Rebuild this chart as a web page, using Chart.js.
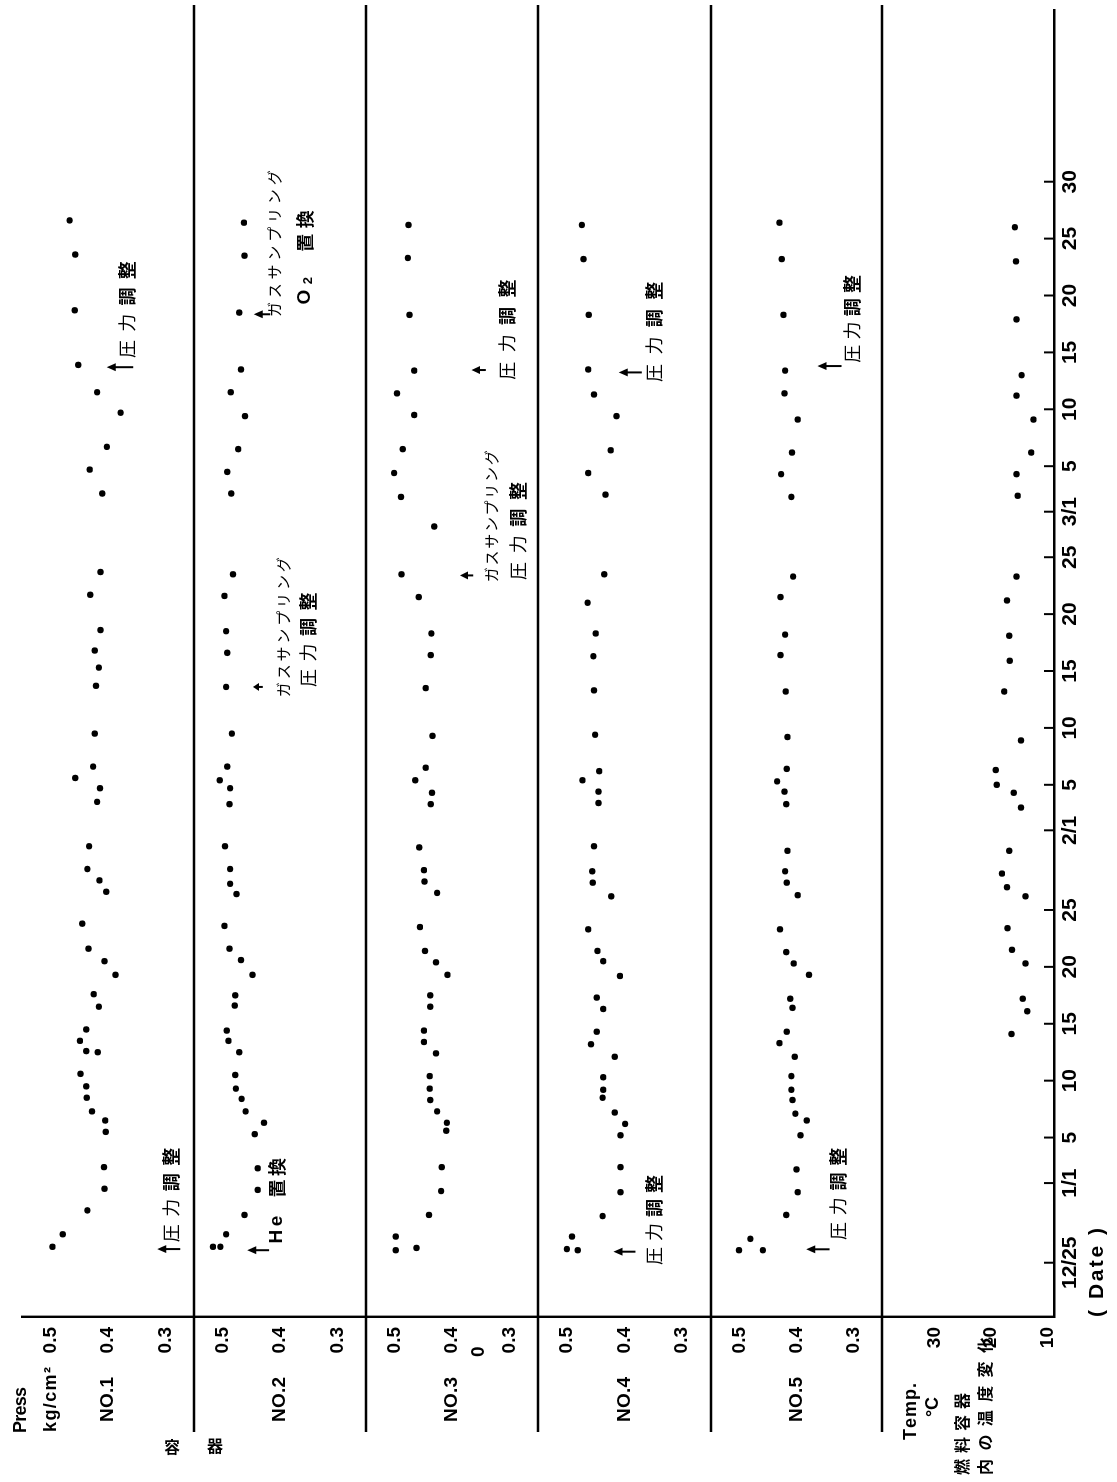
<!DOCTYPE html>
<html><head><meta charset="utf-8"><title>容器内圧力と温度の変化</title>
<script src="https://cdn.jsdelivr.net/npm/chart.js@4.4.1/dist/chart.umd.min.js"></script>
<style>
html,body{margin:0;padding:0;background:#fff;width:1117px;height:1482px;overflow:hidden}
#wrap{position:absolute;left:0;top:0;width:1482px;height:1117px;transform-origin:0 0;transform:translateY(1482px) rotate(-90deg)}
#wrap canvas{position:absolute;left:0;top:0}
</style></head><body><div id="wrap"></div>
<script>
// ---------------- data (day 0 = 12/25) ----------------
const tickDays   = [0,7,11,16,21,26,31,38,42,47,52,57,62,66,70,75,80,85,90,95];
const tickLabels = ['12/25','1/1','5','10','15','20','25','2/1','5','10','15','20','25','3/1','5','10','15','20','25','30'];
const pressTicks = [0.5,0.4,0.3];
const tempTicks  = [30,20,10];

const no1Days  = [1.4,2.5,4.6,6.5,8.4,11.5,12.5,13.3,14.5,15.5,16.6,18.5,18.6,19.5,20.5,22.5,23.6,25.3,26.5,27.6,29.8,32.6,33.6,34.6,36.6,40.5,41.7,42.6,43.6,46.5,50.7,52.3,53.8,55.6,58.7,60.7,67.6,69.7,71.7,74.7,76.5,78.9,83.7,88.6,91.6];
const no1Press = [.497,.479,.436,.406,.407,.404,.405,.428,.437,.438,.448,.418,.438,.449,.438,.416,.425,.387,.406,.434,.445,.403,.415,.436,.433,.419,.414,.457,.426,.423,.421,.416,.423,.413,.431,.413,.410,.432,.402,.378,.419,.452,.458,.457,.467];

const no2Days  = [1.4,1.4,2.5,4.2,6.4,8.3,11.3,12.3,13.3,14.4,15.3,16.5,18.5,19.5,20.4,22.6,23.5,25.3,26.6,27.6,29.6,32.4,33.3,34.6,36.6,40.3,41.7,42.4,43.6,46.5,50.6,53.6,55.5,58.6,60.5,67.6,69.5,71.5,74.4,76.5,78.5,83.5,88.5,91.4];
const no2Press = [.517,.504,.494,.462,.439,.439,.444,.428,.460,.467,.477,.478,.471,.490,.493,.479,.478,.448,.468,.488,.497,.476,.487,.487,.496,.488,.487,.505,.492,.484,.494,.492,.494,.497,.482,.485,.492,.473,.461,.486,.468,.471,.462,.463];

const no3Days  = [1.1,1.3,2.3,4.2,6.3,8.4,11.6,12.3,13.3,14.3,15.3,16.4,18.4,19.4,20.4,22.5,23.5,25.3,26.4,27.4,29.5,32.5,33.5,34.5,36.5,40.3,41.3,42.4,43.5,46.3,50.5,53.4,55.3,58.5,60.5,64.7,67.3,69.4,71.5,74.5,76.4,78.4,83.3,88.3,91.2];
const no3Press = [.498,.462,.498,.440,.419,.418,.410,.409,.426,.438,.439,.439,.428,.449,.449,.438,.438,.408,.428,.447,.456,.426,.448,.449,.457,.437,.435,.464,.446,.434,.446,.437,.436,.458,.488,.431,.489,.501,.486,.466,.496,.466,.474,.477,.476];

const no4Days  = [1.1,1.2,2.3,4.1,6.2,8.4,11.2,12.2,13.2,14.5,15.2,16.3,18.1,19.2,20.3,22.3,23.3,25.2,26.5,27.4,29.3,32.2,33.4,34.4,36.6,40.4,41.4,42.4,43.2,46.4,50.3,53.3,55.3,58.0,60.5,67.5,69.4,71.4,74.4,76.3,78.5,83.3,88.2,91.2];
const no4Press = [.481,.500,.491,.438,.407,.407,.407,.399,.417,.438,.437,.437,.417,.458,.448,.437,.448,.408,.437,.447,.463,.423,.455,.456,.453,.445,.445,.473,.444,.451,.453,.454,.450,.464,.435,.433,.463,.424,.414,.453,.463,.462,.471,.474];

const no5Days  = [1.1,1.1,2.1,4.2,6.2,8.2,11.2,12.5,13.1,14.3,15.2,16.4,18.1,19.3,20.3,22.4,23.2,25.3,26.3,27.3,29.3,32.3,33.4,34.4,36.2,40.3,41.4,42.3,43.4,46.2,50.2,53.4,55.2,58.5,60.3,67.3,69.3,71.2,74.1,76.4,78.4,83.3,88.2,91.4];
const no5Press = [.501,.459,.481,.418,.398,.400,.393,.382,.402,.407,.409,.409,.403,.430,.417,.407,.411,.378,.405,.418,.429,.398,.417,.420,.416,.418,.421,.434,.417,.416,.419,.428,.420,.428,.406,.409,.427,.408,.398,.421,.420,.423,.426,.430];

const tempDays   = [20.1,22.1,23.2,26.3,27.5,29.4,32.2,33.0,34.2,36.2,40.0,41.3,42.0,43.3,45.9,50.2,52.9,55.1,58.2,60.3,67.4,69.3,71.2,74.1,76.2,78.0,82.9,88.0,91.0];
const tempValues = [16.4,13.6,14.4,13.9,16.3,17.1,13.9,17.2,18.1,16.8,14.7,16.0,19.0,19.2,14.7,17.7,16.7,16.8,17.2,15.5,15.3,15.5,12.9,12.5,15.5,14.6,15.5,15.6,15.8];

// ---------------- layout / styles ----------------
const W = 1482, H = 1117;
const DAY_MIN = -4.77, DAY_MAX = 110.09;
const F = {
  jp:   '18px "Noto Sans CJK JP"',
  jpb:  'bold 18px "Noto Sans CJK JP"',
  kana: '15px "Noto Sans CJK JP"',
  jpl:  'bold 16px "Noto Sans CJK JP"',
  lat:  'bold 19px "Liberation Sans"',
  sub:  'bold 13px "Liberation Sans"',
  lab:  'bold 19px "Liberation Sans"',
  lab18:'bold 18px "Liberation Sans"',
  date: 'bold 21px "Liberation Sans"'
};
const PA = [['圧力','jp'],['調整','jpb']];
const GS = [['ガスサンプリング','kana']];

// annotations: (day, value) in data units
const notes = [
  [ {day:1.2, tip:0.314, tail:0.274, lines:[{from:1.8, to:10.1, v:0.290, segs:PA}]},
    {day:78.7, tip:0.402, tail:0.356, lines:[{from:79.5, to:88.0, v:0.367, segs:PA}]} ],
  [ {day:1.1, tip:0.457, tail:0.419, lines:[{from:1.7, to:9.2, v:0.405, segs:[['He','lat'],['  置換','jpb']]}]},
    {day:50.6, tip:0.447, tail:0.430, lines:[{from:49.7, to:62.0, v:0.394, segs:GS},{from:50.6, to:58.9, v:0.351, segs:PA}]},
    {day:83.35, tip:0.446, tail:0.417, lines:[{from:83.1, to:96.0, v:0.410, segs:GS},{from:84.2, to:92.5, v:0.356, segs:[['O','lat'],['2','sub',3],['  置換','jpb']]}]} ],
  [ {day:60.4, tip:0.386, tail:0.363, lines:[{from:59.8, to:71.4, v:0.332, segs:GS},{from:60.0, to:68.6, v:0.285, segs:PA}]},
    {day:78.45, tip:0.366, tail:0.341, lines:[{from:77.6, to:86.4, v:0.304, segs:PA}]} ],
  [ {day:0.97, tip:0.419, tail:0.381, lines:[{from:-0.2, to:7.7, v:0.349, segs:PA}]},
    {day:78.24, tip:0.410, tail:0.370, lines:[{from:77.4, to:86.2, v:0.348, segs:PA}]} ],
  [ {day:1.18, tip:0.383, tail:0.342, lines:[{from:2.0, to:10.1, v:0.327, segs:PA}]},
    {day:78.8, tip:0.363, tail:0.321, lines:[{from:79.1, to:86.8, v:0.302, segs:PA}]} ]
];

const panels = [
  {name:'NO.1', days:no1Days, values:no1Press, band:[22,194]},
  {name:'NO.2', days:no2Days, values:no2Press, band:[194,366]},
  {name:'NO.3', days:no3Days, values:no3Press, band:[366,538]},
  {name:'NO.4', days:no4Days, values:no4Press, band:[538,711]},
  {name:'NO.5', days:no5Days, values:no5Press, band:[711,882]}
];

function drawSegs(ctx, segs, x0, x1, y) {
  const chars = [];
  for (const s of segs) for (const ch of s[0]) chars.push({ch, f:F[s[1]], dy:s[2]||0});
  let nat = 0;
  chars.forEach(c => { ctx.font = c.f; c.w = ctx.measureText(c.ch).width; nat += c.w; });
  const gap = (chars.length > 1 && x1 != null) ? (x1 - x0 - nat) / (chars.length - 1) : 0;
  let x = x0;
  ctx.textAlign = 'left'; ctx.textBaseline = 'middle';
  for (const c of chars) { ctx.font = c.f; ctx.fillText(c.ch, x, y + c.dy); x += c.w + gap; }
}
function drawArrow(ctx, x, yTip, yTail) {
  const len = yTail - yTip, head = Math.min(9, len * 0.6);
  ctx.lineWidth = 2;
  ctx.beginPath(); ctx.moveTo(x, yTail); ctx.lineTo(x, yTip + head - 1); ctx.stroke();
  ctx.beginPath(); ctx.moveTo(x, yTip); ctx.lineTo(x - 4, yTip + head); ctx.lineTo(x + 4, yTip + head); ctx.closePath(); ctx.fill();
}

const decor = {
  id: 'decor',
  afterDraw(chart, args, o) {
    const ctx = chart.ctx, xs = chart.scales.x, ys = chart.scales.y, ca = chart.chartArea;
    ctx.save();
    ctx.fillStyle = '#000'; ctx.strokeStyle = '#000';
    if (o.separator) {
      ctx.lineWidth = 2.4;
      ctx.beginPath(); ctx.moveTo(50, ca.bottom); ctx.lineTo(1477, ca.bottom); ctx.stroke();
    }
    if (o.dateTicks) {
      ctx.lineWidth = 2;
      for (const d of tickDays) {
        const px = xs.getPixelForValue(d);
        ctx.beginPath(); ctx.moveTo(px, ca.bottom); ctx.lineTo(px, ca.bottom - 10); ctx.stroke();
      }
    }
    for (const n of (o.notes || [])) {
      drawArrow(ctx, xs.getPixelForValue(n.day), ys.getPixelForValue(n.tip), ys.getPixelForValue(n.tail));
      for (const ln of n.lines) drawSegs(ctx, ln.segs, xs.getPixelForValue(ln.from), xs.getPixelForValue(ln.to), ys.getPixelForValue(ln.v));
    }
    for (const t of (o.texts || [])) {
      const y = t.yVal != null ? ys.getPixelForValue(t.yVal) : t.y;
      drawSegs(ctx, t.segs, t.x0, t.x1, y);
    }
    for (const r of (o.rotated || [])) {
      ctx.save(); ctx.translate(r.x, r.y); ctx.rotate(Math.PI / 2);
      ctx.font = F.jpl; ctx.textAlign = 'center'; ctx.textBaseline = 'middle';
      ctx.fillText(r.ch, 0, 0); ctx.restore();
    }
    ctx.restore();
  }
};

const wrap = document.getElementById('wrap');
Chart.defaults.font.family = '"Liberation Sans", Arial, sans-serif';
Chart.defaults.color = '#000';

function makeChart(cfg) {
  const cv = document.createElement('canvas');
  cv.width = W; cv.height = H; cv.style.width = W + 'px'; cv.style.height = H + 'px';
  wrap.appendChild(cv);
  const isTemp = !!cfg.temp;
  new Chart(cv, {
    type: 'scatter',
    data: { datasets: [{ data: cfg.days.map((d, i) => ({x: d, y: cfg.values[i]})),
      pointRadius: 3.2, pointBackgroundColor: '#000', pointBorderWidth: 0, pointHoverRadius: 3.2, showLine: false }] },
    options: {
      responsive: false, animation: false, devicePixelRatio: 1, events: [],
      layout: { padding: { top: cfg.band[0], bottom: isTemp ? 0 : H - cfg.band[1], left: 0, right: 10 } },
      plugins: { legend: {display: false}, tooltip: {enabled: false},
        decor: { separator: !isTemp, dateTicks: isTemp, notes: cfg.notes, texts: cfg.texts, rotated: cfg.rotated } },
      scales: {
        x: { type: 'linear', min: DAY_MIN, max: DAY_MAX, display: isTemp,
          afterBuildTicks: s => { s.ticks = tickDays.map(v => ({value: v})); },
          afterFit: s => { s.height = isTemp ? 63 : 0; s.paddingLeft = 0; s.paddingRight = 0; },
          grid: {display: false, drawTicks: false},
          border: {display: true, color: '#000', width: 2.4},
          ticks: { autoSkip: false, maxRotation: 0, minRotation: 0, padding: 4, color: '#000', font: {family: 'Liberation Sans', weight: 'bold', size: 21},
            callback: v => tickLabels[tickDays.indexOf(v)] } },
        y: { type: 'linear', position: 'left', min: cfg.min, max: cfg.max,
          afterBuildTicks: s => { s.ticks = cfg.ticks.map(v => ({value: v})); },
          afterFit: s => { s.width = 165; s.paddingTop = 0; s.paddingBottom = 0; },
          grid: {display: false, drawTicks: false},
          border: {display: true, color: '#000', width: 2.4},
          ticks: { padding: 10, color: '#000', font: {family: 'Liberation Sans', weight: 'bold', size: 19},
            callback: v => cfg.fmt(v) } }
      }
    },
    plugins: [decor]
  });
}

panels.forEach((p, i) => {
  const texts = [{segs: [[p.name, 'lab']], x0: 60, x1: 105, yVal: 0.4}];
  let rotated = [];
  if (i === 0) {
    texts.push({segs: [['Press', 'lab18']], x0: 49, x1: 95, y: 21});
    texts.push({segs: [['kg/cm²', 'lab18']], x0: 50, x1: 115, yVal: 0.5});
    rotated = [{ch: '容', x: 35, y: 172}, {ch: '器', x: 36, y: 215}];
  }
  if (i === 2) texts.push({segs: [['0', 'lab']], x0: 125, x1: null, yVal: 0.353});
  makeChart({days: p.days, values: p.values, band: p.band, min: 0.25, max: 0.55, ticks: pressTicks,
    fmt: v => v.toFixed(1), notes: notes[i], texts, rotated});
});

makeChart({temp: true, days: tempDays, values: tempValues, band: [882, 1054], min: 8.84, max: 39.4, ticks: tempTicks,
  fmt: v => String(v), notes: [],
  texts: [
    {segs: [['Temp.', 'lab18']], x0: 42, x1: 99, y: 911},
    {segs: [['°C', 'lab18']], x0: 65, x1: 85, y: 933},
    {segs: [['燃料容器', 'jpl']], x0: 7, x1: 89, y: 962},
    {segs: [['内の温度変化', 'jpl']], x0: 7, x1: 145, y: 985},
    {segs: [['( Date )', 'date']], x0: 165, x1: 254, y: 1097}
  ]});
</script></body></html>
